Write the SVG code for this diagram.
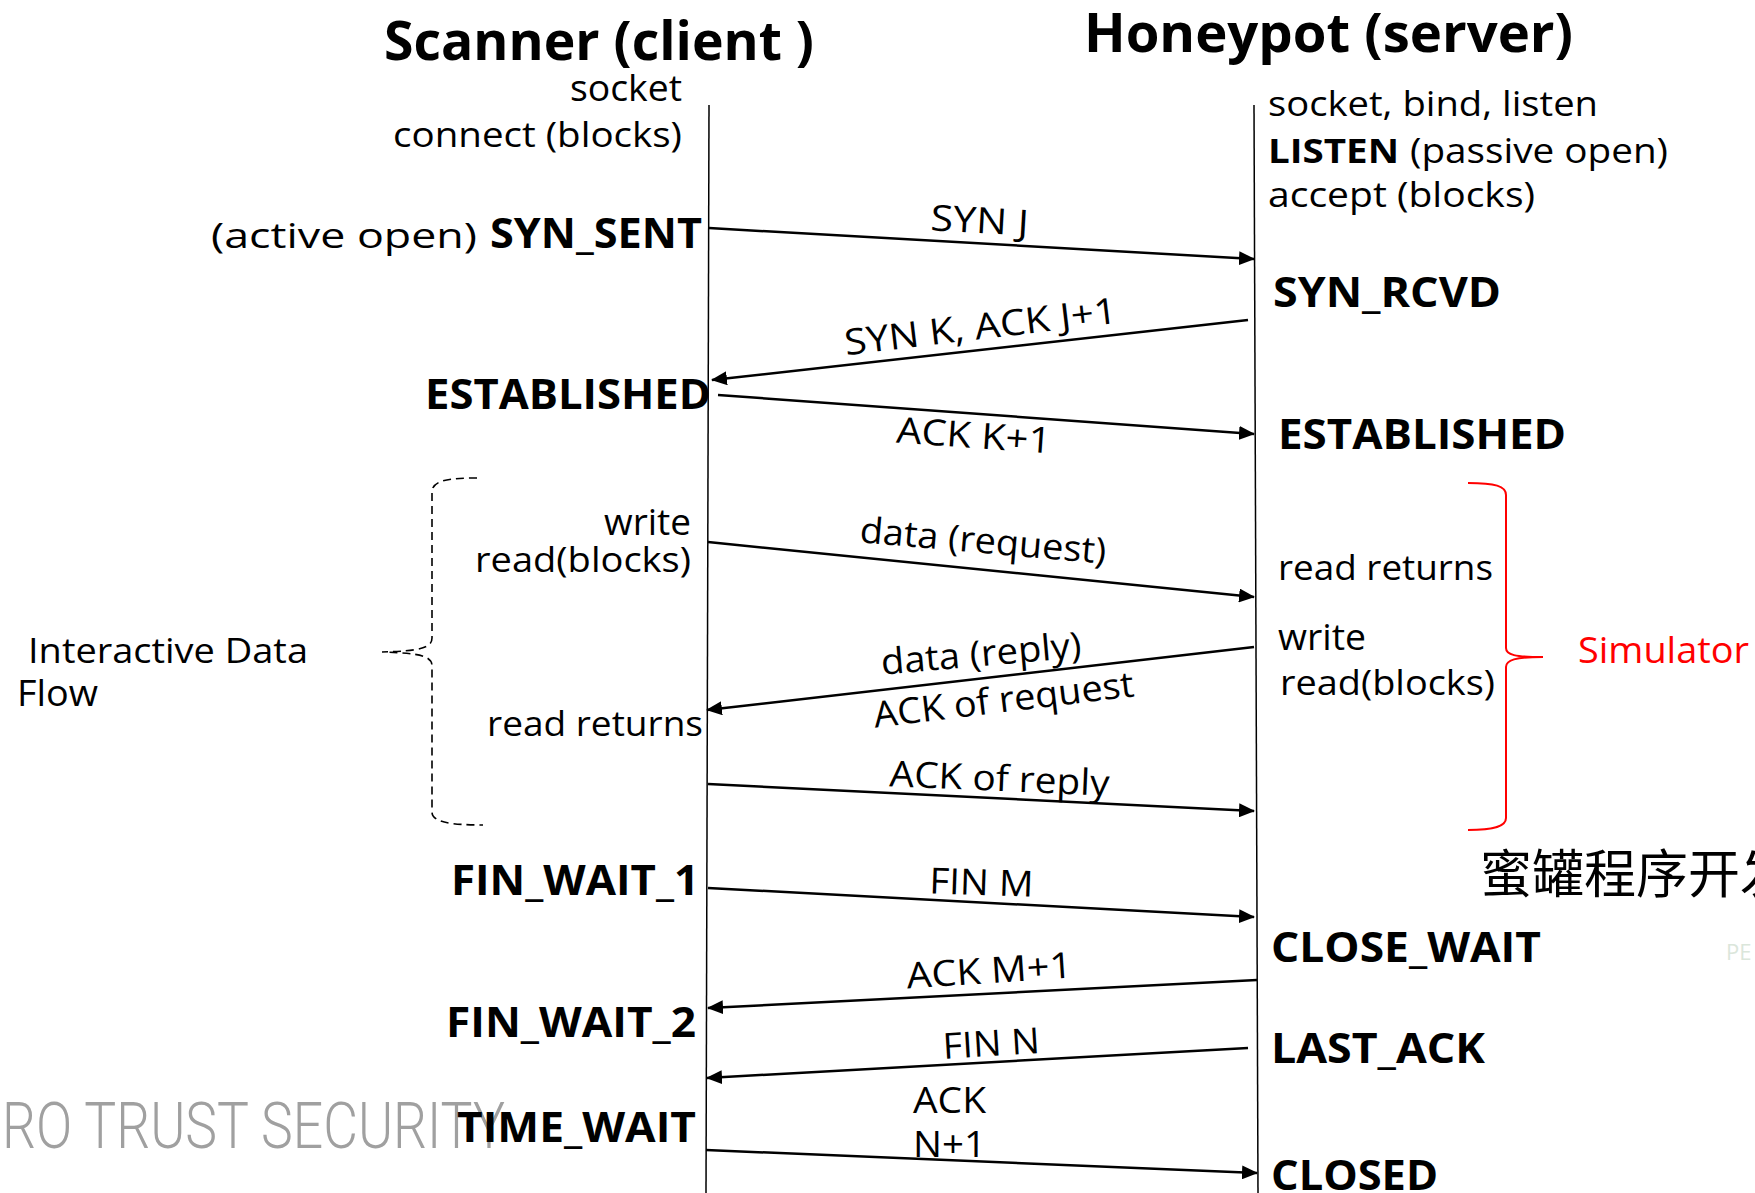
<svg xmlns="http://www.w3.org/2000/svg" width="1755" height="1193" viewBox="0 0 1755 1193">
<style>
text{font-family:"Open Sans","Noto Sans",sans-serif;fill:#000}
.r{font-size:34px}
.b{font-size:42px;font-weight:700}
.title{font-size:54px;font-weight:700}
.lbl{font-size:36px}
.life{stroke:#000;stroke-width:1.5;fill:none}
.msg{stroke:#000;stroke-width:2.5;fill:none;marker-end:url(#ah)}
</style>
<defs>
<marker id="ah" markerUnits="userSpaceOnUse" markerWidth="16" markerHeight="14" refX="15" refY="7" orient="auto">
<path d="M0,0 L16,7 L0,14 Z" fill="#000"/>
</marker>
</defs>
<rect width="1755" height="1193" fill="#fff"/>
<g id="watermark">
<text x="2" y="1148" style="font-family:Roboto,'Liberation Sans',sans-serif;font-weight:300;font-size:64px;fill:#a0a0a0" textLength="503" lengthAdjust="spacingAndGlyphs">RO TRUST SECURITY</text>
<text x="1726" y="960" style="font-size:22px;fill:#dbe6db">PE</text>
</g>
<g id="scanner">
<text class="title" x="384" y="60" textLength="430" lengthAdjust="spacingAndGlyphs">Scanner (client )</text>
<line class="life" x1="709" y1="105" x2="706" y2="1193"/>
<text class="r" x="682" y="101" text-anchor="end" style="font-size:36px" textLength="112" lengthAdjust="spacingAndGlyphs">socket</text>
<text class="r" x="682" y="147" text-anchor="end" textLength="289" lengthAdjust="spacingAndGlyphs">connect (blocks)</text>
<text class="r" x="211" y="248" textLength="266" lengthAdjust="spacingAndGlyphs">(active open)</text>
<text class="b" x="490" y="248" textLength="212" lengthAdjust="spacingAndGlyphs">SYN_SENT</text>
<text class="b" x="425" y="409" textLength="286" lengthAdjust="spacingAndGlyphs">ESTABLISHED</text>
<text class="r" x="691" y="535" text-anchor="end" style="font-size:36px" textLength="87" lengthAdjust="spacingAndGlyphs">write</text>
<text class="r" x="475" y="572" textLength="216" lengthAdjust="spacingAndGlyphs">read(blocks)</text>
<text class="r" x="487" y="736" textLength="216" lengthAdjust="spacingAndGlyphs">read returns</text>
<text class="b" x="451" y="895" textLength="248" lengthAdjust="spacingAndGlyphs">FIN_WAIT_1</text>
<text class="b" x="446" y="1037" textLength="250" lengthAdjust="spacingAndGlyphs">FIN_WAIT_2</text>
<text class="b" x="457" y="1142" textLength="239" lengthAdjust="spacingAndGlyphs">TIME_WAIT</text>
</g>
<g id="honeypot">
<text class="title" x="1084" y="52" textLength="489" lengthAdjust="spacingAndGlyphs">Honeypot (server)</text>
<line class="life" x1="1254" y1="105" x2="1258" y2="1193"/>
<text class="r" x="1268" y="116" textLength="330" lengthAdjust="spacingAndGlyphs">socket, bind, listen</text>
<text class="r" x="1268" y="163" style="font-weight:700" textLength="131" lengthAdjust="spacingAndGlyphs">LISTEN</text>
<text class="r" x="1410" y="163" textLength="258" lengthAdjust="spacingAndGlyphs">(passive open)</text>
<text class="r" x="1268" y="207" textLength="267" lengthAdjust="spacingAndGlyphs">accept (blocks)</text>
<text class="b" x="1273" y="307" textLength="228" lengthAdjust="spacingAndGlyphs">SYN_RCVD</text>
<text class="b" x="1278" y="449" textLength="288" lengthAdjust="spacingAndGlyphs">ESTABLISHED</text>
<text class="r" x="1278" y="580" textLength="215" lengthAdjust="spacingAndGlyphs">read returns</text>
<text class="r" x="1278" y="650" style="font-size:36px" textLength="88" lengthAdjust="spacingAndGlyphs">write</text>
<text class="r" x="1280" y="695" textLength="215" lengthAdjust="spacingAndGlyphs">read(blocks)</text>
<text class="b" x="1271" y="962" textLength="270" lengthAdjust="spacingAndGlyphs">CLOSE_WAIT</text>
<text class="b" x="1271" y="1063" textLength="214" lengthAdjust="spacingAndGlyphs">LAST_ACK</text>
<text class="b" x="1271" y="1190" textLength="167" lengthAdjust="spacingAndGlyphs">CLOSED</text>
</g>
<g id="interactive-data-flow">
<path d="M477,478 C450,478 432,480 432,492 L432,638 C432,648 420,651 382,652 C420,653 432,656 432,666 L432,812 C432,822 450,825 483,825" fill="none" stroke="#000" stroke-width="1.6" stroke-dasharray="8 5"/>
<text class="r" x="28" y="663" textLength="280" lengthAdjust="spacingAndGlyphs">Interactive Data</text>
<text class="r" x="17" y="706" style="font-size:36px" textLength="81" lengthAdjust="spacingAndGlyphs">Flow</text>
</g>
<g id="simulator">
<path d="M1468,483 C1495,483 1506,486 1506,495 L1506,648 C1506,655 1515,657 1543,657 C1515,657 1506,660 1506,667 L1506,818 C1506,826 1495,830 1468,830" fill="none" stroke="#ff0000" stroke-width="2"/>
<text class="r" x="1578" y="663" style="fill:#ff0000;font-size:37px" textLength="171" lengthAdjust="spacingAndGlyphs">Simulator</text>
</g>
<g id="caption">
<text x="1480" y="893" style="font-family:'Noto Sans CJK SC','Noto Sans CJK JP',sans-serif;font-size:52px">蜜罐程序开发</text>
</g>
<g id="connectors">
<line class="msg" x1="709" y1="228" x2="1254" y2="259"/>
<line class="msg" x1="1248" y1="320" x2="712" y2="380"/>
<line class="msg" x1="718" y1="395" x2="1254" y2="434"/>
<line class="msg" x1="708" y1="542" x2="1254" y2="597"/>
<line class="msg" x1="1254" y1="647" x2="707" y2="710"/>
<line class="msg" x1="708" y1="784" x2="1254" y2="811"/>
<line class="msg" x1="708" y1="888" x2="1254" y2="917"/>
<line class="msg" x1="1257" y1="980" x2="708" y2="1008"/>
<line class="msg" x1="1248" y1="1048" x2="707" y2="1078"/>
<line class="msg" x1="706" y1="1150" x2="1257" y2="1173"/>
<text class="lbl" transform="translate(979,233) rotate(3.3)" text-anchor="middle" textLength="98" lengthAdjust="spacingAndGlyphs">SYN J</text>
<text class="lbl" transform="translate(982,339) rotate(-6.8)" text-anchor="middle" textLength="274" lengthAdjust="spacingAndGlyphs">SYN K, ACK J+1</text>
<text class="lbl" transform="translate(973,448) rotate(4)" text-anchor="middle" textLength="155" lengthAdjust="spacingAndGlyphs">ACK K+1</text>
<text class="lbl" transform="translate(982,553) rotate(5)" text-anchor="middle" textLength="247" lengthAdjust="spacingAndGlyphs">data (request)</text>
<text class="lbl" transform="translate(982,666) rotate(-5)" text-anchor="middle" textLength="201" lengthAdjust="spacingAndGlyphs">data (reply)</text>
<text class="lbl" transform="translate(1005,712) rotate(-6.9)" text-anchor="middle" textLength="262" lengthAdjust="spacingAndGlyphs">ACK of request</text>
<text class="lbl" transform="translate(999,791) rotate(2.5)" text-anchor="middle" textLength="220" lengthAdjust="spacingAndGlyphs">ACK of reply</text>
<text class="lbl" transform="translate(981,895) rotate(2)" text-anchor="middle" textLength="104" lengthAdjust="spacingAndGlyphs">FIN M</text>
<text class="lbl" transform="translate(990,983) rotate(-3.8)" text-anchor="middle" textLength="166" lengthAdjust="spacingAndGlyphs">ACK M+1</text>
<text class="lbl" transform="translate(992,1056) rotate(-3.5)" text-anchor="middle" textLength="97" lengthAdjust="spacingAndGlyphs">FIN N</text>
<text class="lbl" x="913" y="1113" textLength="73" lengthAdjust="spacingAndGlyphs">ACK</text>
<text class="lbl" x="913" y="1157" textLength="73" lengthAdjust="spacingAndGlyphs">N+1</text>
</g>
</svg>
